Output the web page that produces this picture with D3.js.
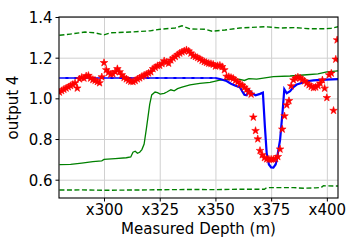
<!DOCTYPE html>
<html>
<head>
<meta charset="utf-8">
<script src="https://cdn.jsdelivr.net/npm/d3@7"></script>
<style>
body { margin: 0; background: #fff; }
text { font-family: "DejaVu Sans", sans-serif; }
</style>
</head>
<body>
<div class="chartwrap"></div>
<script>
var width = 358, height = 249;
var margin = {top: 17, left: 59, right: 20, bottom: 51};
var pw = width - margin.left - margin.right,
    ph = height - margin.top - margin.bottom;

// tick values and labels
var xTicks = [300, 325, 350, 375, 400];
var xTickLabels = ["x300", "x325", "x350", "x375", "x400"];
var yTicks = [0.6, 0.8, 1.0, 1.2, 1.4];
var yTickLabels = ["0.6", "0.8", "1.0", "1.2", "1.4"];

// upper dashed band (green)
var upperDepth = [280, 284.8, 291.5, 296, 300, 302.7, 311.7, 320.7, 325.2, 331.9, 335, 338.6, 345.3, 348.5, 354.3, 361, 372.3, 379, 385.7, 392.4, 399.2, 402, 405];
var upperVal   = [1.310, 1.316, 1.326, 1.322, 1.312, 1.322, 1.326, 1.332, 1.340, 1.346, 1.357, 1.341, 1.340, 1.330, 1.336, 1.346, 1.352, 1.346, 1.348, 1.342, 1.342, 1.345, 1.352];

// lower dashed band (green)
var lowerDepth = [280, 290, 300, 310, 320, 330, 340, 350, 360, 368, 372, 373, 385, 390, 395, 397.5, 398.5, 405];
var lowerVal   = [0.549, 0.550, 0.548, 0.549, 0.550, 0.551, 0.552, 0.551, 0.553, 0.553, 0.553, 0.561, 0.561, 0.558, 0.560, 0.562, 0.570, 0.569];

// green solid line
var greenDepth = [280, 285, 290, 295, 299, 300, 305, 310, 312, 313, 314, 315, 316, 317, 318, 319, 320, 320.5, 321.4, 322.9, 324, 325.2, 327, 328.2, 330, 331.5, 333, 335, 338.6, 343, 347.6, 352, 356.5, 361, 363, 365, 368.5, 376, 383.5, 391, 396, 400, 405];
var greenVal   = [0.674, 0.675, 0.682, 0.689, 0.693, 0.700, 0.704, 0.708, 0.712, 0.735, 0.740, 0.730, 0.735, 0.748, 0.775, 0.850, 0.930, 0.970, 1.017, 1.031, 1.028, 1.021, 1.025, 1.031, 1.042, 1.037, 1.048, 1.055, 1.066, 1.074, 1.079, 1.090, 1.094, 1.093, 1.088, 1.097, 1.095, 1.107, 1.110, 1.116, 1.120, 1.130, 1.135];

// blue solid line
var blueDepth = [280, 350, 352, 355, 357, 359, 361, 362, 363, 364, 365, 366, 368, 370, 371.3, 372.2, 373, 374, 375, 376, 377, 377.5, 379, 380.2, 380.9, 382, 383.5, 385, 386.5, 389, 391, 394, 397, 405];
var blueVal   = [1.100, 1.100, 1.095, 1.085, 1.072, 1.062, 1.055, 1.035, 1.018, 1.015, 1.042, 1.028, 1.015, 1.022, 1.028, 0.860, 0.730, 0.675, 0.660, 0.659, 0.675, 0.697, 0.795, 0.943, 1.045, 1.025, 1.035, 1.055, 1.068, 1.077, 1.084, 1.088, 1.091, 1.095];

// blue dashed line
var blueDashDepth = [280, 350];
var blueDashVal   = [1.100, 1.100];

// red stars
var starDepth = [];
for (var i = 280; i <= 403; i++) starDepth.push(i);
starDepth.push(404, 404.6);
var starVal = [1.030, 1.037, 1.044, 1.050, 1.056, 1.062, 1.068, 1.075, 1.050, 1.095,
               1.103, 1.099, 1.110, 1.112, 1.099, 1.092, 1.088, 1.082, 1.076, 1.105,
               1.175, 1.140, 1.127, 1.118, 1.120, 1.131, 1.145, 1.130, 1.115, 1.102,
               1.095, 1.088, 1.083, 1.082, 1.087, 1.095, 1.100, 1.107, 1.113, 1.118,
               1.124, 1.130, 1.145, 1.152, 1.160, 1.162, 1.170, 1.184, 1.178, 1.172,
               1.188, 1.197, 1.205, 1.214, 1.222, 1.228, 1.233, 1.238, 1.232, 1.222,
               1.210, 1.205, 1.200, 1.194, 1.186, 1.180, 1.176, 1.172, 1.170, 1.167,
               1.158, 1.160, 1.162, 1.155, 1.140, 1.108, 1.106, 1.102, 1.098, 1.088,
               1.080, 1.070, 1.064, 1.054, 1.044, 1.030, 1.020, 0.907, 0.841, 0.800,
               0.743, 0.722, 0.708, 0.702, 0.700, 0.700, 0.700, 0.703, 0.713, 0.750,
               0.848, 0.913, 0.967, 0.988, 1.061, 1.090, 1.099, 1.104, 1.100, 1.092,
               1.085, 1.074, 1.066, 1.058, 1.052, 1.055, 1.062, 1.074, 1.090, 1.049,
               1.003, 1.115, 1.123, 0.940, 1.192, 1.287];

var svg = d3.select(".chartwrap").append("svg")
    .attr("width", width)
    .attr("height", height);

var g = svg.append("g")
    .attr("transform", "translate(" + margin.left + "," + margin.top + ")");

var x = d3.scaleLinear()
    .domain([279.8, 405])
    .range([0, pw]);

var y = d3.scaleLinear()
    .domain([0.51, 1.4])
    .range([ph, 0]);

function zip(xs, ys) {
    return xs.map(function(d, i) { return [d, ys[i]]; });
}

// grid
g.append("g")
    .attr("class", "grid")
    .attr("transform", "translate(0," + ph + ")")
    .call(d3.axisBottom(x).tickValues(xTicks).tickSize(-ph).tickFormat(""))
    .call(function(a) {
        a.select(".domain").remove();
        a.selectAll(".tick line").attr("stroke", "#d0d0d0").attr("stroke-width", 1);
    });

g.append("g")
    .attr("class", "grid")
    .call(d3.axisLeft(y).tickValues(yTicks).tickSize(-pw).tickFormat(""))
    .call(function(a) {
        a.select(".domain").remove();
        a.selectAll(".tick line").attr("stroke", "#d0d0d0").attr("stroke-width", 1);
    });

var clip = g.append("clipPath").attr("id", "clip")
    .append("rect").attr("width", pw).attr("height", ph);

var plot = g.append("g").attr("clip-path", "url(#clip)");

var line = d3.line()
    .x(function(d) { return x(d[0]); })
    .y(function(d) { return y(d[1]); });

plot.append("path")
    .datum(zip(upperDepth, upperVal))
    .attr("fill", "none")
    .attr("stroke", "#008000")
    .attr("stroke-width", 1.4)
    .attr("stroke-dasharray", "5,2.5")
    .attr("d", line);

plot.append("path")
    .datum(zip(lowerDepth, lowerVal))
    .attr("fill", "none")
    .attr("stroke", "#008000")
    .attr("stroke-width", 1.4)
    .attr("stroke-dasharray", "5,2.5")
    .attr("d", line);

plot.append("path")
    .datum(zip(greenDepth, greenVal))
    .attr("fill", "none")
    .attr("stroke", "#008000")
    .attr("stroke-width", 1.3)
    .attr("d", line);

plot.append("path")
    .datum(zip(blueDepth, blueVal))
    .attr("fill", "none")
    .attr("stroke", "#0000ff")
    .attr("stroke-width", 2.2)
    .attr("d", line);

plot.append("path")
    .datum(zip(blueDashDepth, blueDashVal))
    .attr("fill", "none")
    .attr("stroke", "#4040ff")
    .attr("stroke-width", 2.2)
    .attr("stroke-dasharray", "6,3")
    .attr("d", line);

var star = d3.symbol().type(d3.symbolStar).size(18);

plot.selectAll(".star")
    .data(zip(starDepth, starVal))
    .enter().append("path")
    .attr("class", "star")
    .attr("transform", function(d) { return "translate(" + x(d[0]) + "," + y(d[1]) + ")"; })
    .attr("d", star)
    .attr("fill", "#ff0000")
    .attr("stroke", "#ff0000")
    .attr("stroke-width", 0.6);

// axes
var xAxis = d3.axisBottom(x)
    .tickValues(xTicks)
    .tickSize(3.5)
    .tickPadding(3)
    .tickFormat(function(d, i) { return xTickLabels[i]; });

var yAxis = d3.axisLeft(y)
    .tickValues(yTicks)
    .tickSize(3.5)
    .tickPadding(3)
    .tickFormat(function(d, i) { return yTickLabels[i]; });

function customAxis(a) {
    a.select(".domain").remove();
    a.selectAll(".tick line").attr("stroke", "#000").attr("stroke-width", 1);
    a.selectAll(".tick text").attr("fill", "#000").style("font-size", "15px");
}

g.append("g")
    .attr("class", "x axis")
    .attr("transform", "translate(0," + ph + ")")
    .call(xAxis)
    .call(customAxis);

g.append("g")
    .attr("class", "y axis")
    .call(yAxis)
    .call(customAxis);

g.selectAll(".y.axis .tick text").attr("dy", "0.36em");

// frame
g.append("rect")
    .attr("width", pw)
    .attr("height", ph)
    .attr("fill", "none")
    .attr("stroke", "#000")
    .attr("stroke-width", 1.1);

g.append("text")
    .attr("x", pw / 2)
    .attr("y", ph + 36)
    .style("text-anchor", "middle")
    .style("font-size", "15px")
    .text("Measured Depth (m)");

g.append("text")
    .attr("transform", "translate(" + (-41) + "," + (ph / 2) + ") rotate(-90)")
    .style("text-anchor", "middle")
    .style("font-size", "15px")
    .text("output 4");
</script>
</body>
</html>
